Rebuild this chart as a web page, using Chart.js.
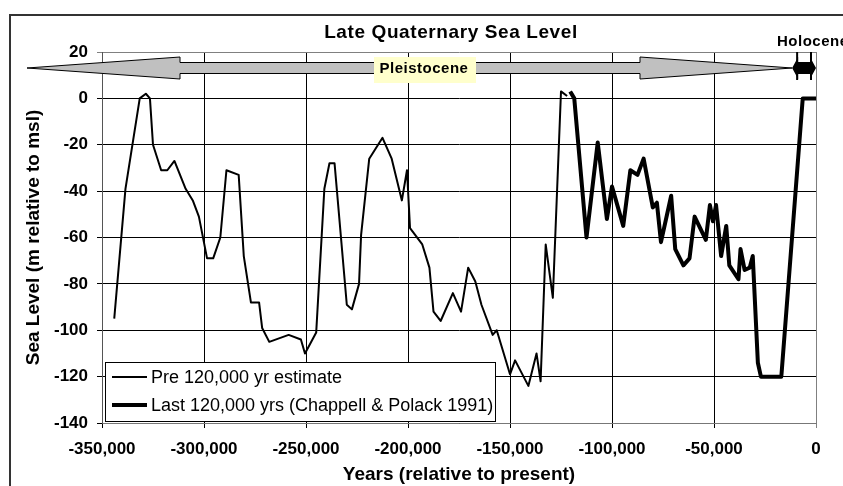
<!DOCTYPE html>
<html>
<head>
<meta charset="utf-8">
<title>Late Quaternary Sea Level</title>
<script src="https://cdn.jsdelivr.net/npm/chart.js@4.4.1/dist/chart.umd.min.js"></script>
<style>
  html, body { margin: 0; padding: 0; background: #fff; }
  #wrap { width: 843px; height: 486px; }
</style>
</head>
<body>
<div id="wrap"><canvas id="sea" width="843" height="486"></canvas></div>
<script>
// Pre 120,000 yr estimate (years relative to present, metres relative to msl)
var preYears = [
  -344000, -338500, -331500, -328500, -326500, -325000, -321000, -318000, -314500, -309000,
  -305500, -302500, -298500, -295500, -292000, -289000, -283000, -280500, -277000, -273000,
  -271500, -268000, -258500, -252500, -250500, -245000, -241000, -238500, -236000, -230000,
  -227500, -224000, -223000, -219000, -212500, -208000, -203000, -200500, -199000, -193000,
  -189500, -187500, -184000, -178000, -174000, -170500, -167000, -164000, -158500, -156500,
  -150000, -147500, -141000, -137000, -135000, -132500, -129000, -125000, -122000
];
var preLevel = [
  -95, -39, 0, 2, 0, -20, -31, -31, -27, -39,
  -44, -51, -69, -69, -60, -31, -33, -68, -88, -88,
  -99, -105, -102, -104, -110, -101, -39, -28, -28, -89,
  -91, -80, -59, -26, -17, -26, -44, -31, -56, -63,
  -73, -92, -96, -84, -92, -73, -79, -89, -102, -100,
  -119, -113, -124, -110, -122, -63, -86, 3, 1
];

// Last 120,000 yrs (Chappell & Polack 1991)
var lastYears = [
  -120500, -118500, -112500, -107000, -102500, -100000, -94500, -91000, -87500, -84500,
  -80000, -78000, -76000, -71000, -69000, -65000, -62000, -59500, -54000, -52000,
  -50500, -49000, -46500, -44000, -42500, -38000, -37000, -35000, -32500, -31000,
  -28500, -27000, -17000, -6500, 0
];
var lastLevel = [
  3, 0, -60, -19, -52, -38, -55, -31, -33, -26,
  -47, -45, -62, -42, -65, -72, -69, -51, -61, -46,
  -53, -46, -68, -55, -72, -78, -65, -74, -73, -68,
  -114, -120, -120, 0, 0
];

var xTicks = [-350000, -300000, -250000, -200000, -150000, -100000, -50000, 0];
var yTicks = [20, 0, -20, -40, -60, -80, -100, -120, -140];
var seriesNames = ['Pre 120,000 yr estimate', 'Last 120,000 yrs (Chappell & Polack 1991)'];
var holoceneStart = -11700;

var FONT = "'Liberation Sans', Arial, sans-serif";

function pairs(xs, ys) {
  return xs.map(function (x, i) { return { x: x, y: ys[i] }; });
}

var decor = {
  id: 'decor',
  beforeDraw: function (chart) {
    var c = chart.ctx;
    c.save();
    c.strokeStyle = '#333';
    c.lineWidth = 2;
    c.beginPath();
    c.moveTo(10, 486);
    c.lineTo(10, 15);
    c.lineTo(843, 15);
    c.stroke();
    c.restore();
  },
  afterDraw: function (chart) {
    var c = chart.ctx;
    var a = chart.chartArea;
    var xs = chart.scales.x;
    var bx = xs.getPixelForValue(holoceneStart);
    var yc = a.top + 16;

    c.save();
    // title
    c.fillStyle = '#000';
    c.font = 'bold 19px ' + FONT;
    c.letterSpacing = '0.6px';
    c.textAlign = 'center';
    c.textBaseline = 'alphabetic';
    c.fillText('Late Quaternary Sea Level', 451, 38);
    c.letterSpacing = '0px';

    // Pleistocene arrow
    c.beginPath();
    c.moveTo(27, yc);
    c.lineTo(180, yc - 11);
    c.lineTo(180, yc - 5.5);
    c.lineTo(640, yc - 5.5);
    c.lineTo(640, yc - 11);
    c.lineTo(bx, yc);
    c.lineTo(640, yc + 11);
    c.lineTo(640, yc + 5.5);
    c.lineTo(180, yc + 5.5);
    c.lineTo(180, yc + 11);
    c.closePath();
    c.fillStyle = '#c0c0c0';
    c.fill();
    c.strokeStyle = '#000';
    c.lineWidth = 1;
    c.stroke();

    // Holocene arrow
    var r = a.right;
    c.beginPath();
    c.moveTo(bx, yc);
    c.lineTo(bx + 6, yc - 11);
    c.lineTo(bx + 6, yc - 6);
    c.lineTo(r - 6, yc - 6);
    c.lineTo(r - 6, yc - 11);
    c.lineTo(r, yc);
    c.lineTo(r - 6, yc + 11);
    c.lineTo(r - 6, yc + 6);
    c.lineTo(bx + 6, yc + 6);
    c.lineTo(bx + 6, yc + 11);
    c.closePath();
    c.fillStyle = '#000';
    c.fill();
    c.lineWidth = 2;
    c.beginPath();
    c.moveTo(bx + 5, a.top); c.lineTo(bx + 5, yc + 12);
    c.moveTo(r - 5, a.top); c.lineTo(r - 5, yc + 12);
    c.stroke();

    // Pleistocene label
    c.fillStyle = '#ffffcc';
    c.fillRect(374, yc - 11, 102, 26);
    c.fillStyle = '#000';
    c.font = 'bold 15px ' + FONT;
    c.letterSpacing = '0.5px';
    c.textAlign = 'center';
    c.textBaseline = 'middle';
    c.fillText('Pleistocene', 424, yc + 1);

    // Holocene label
    c.textAlign = 'left';
    c.textBaseline = 'alphabetic';
    c.fillText('Holocene', 777, 46);
    c.letterSpacing = '0px';

    // legend
    var lx = 105.5, ly = 362.5, lw = 390, lh = 59;
    c.fillStyle = '#fff';
    c.fillRect(lx, ly, lw, lh);
    c.strokeStyle = '#000';
    c.lineWidth = 1;
    c.strokeRect(lx, ly, lw, lh);
    c.font = '18px ' + FONT;
    c.textBaseline = 'middle';
    c.textAlign = 'left';
    var rows = [{ y: 377, w: 2 }, { y: 405, w: 4 }];
    rows.forEach(function (row, i) {
      c.lineWidth = row.w;
      c.beginPath();
      c.moveTo(112, row.y);
      c.lineTo(147, row.y);
      c.stroke();
      c.fillStyle = '#000';
      c.fillText(seriesNames[i], 151, row.y + 1);
    });
    c.restore();
  }
};

new Chart(document.getElementById('sea'), {
  type: 'line',
  data: {
    datasets: [
      {
        label: seriesNames[0],
        data: pairs(preYears, preLevel),
        borderColor: '#000',
        borderWidth: 2,
        pointRadius: 0,
        tension: 0,
        borderJoinStyle: 'round'
      },
      {
        label: seriesNames[1],
        data: pairs(lastYears, lastLevel),
        borderColor: '#000',
        borderWidth: 4,
        pointRadius: 0,
        tension: 0,
        borderJoinStyle: 'round'
      }
    ]
  },
  options: {
    responsive: false,
    animation: false,
    layout: { padding: { left: 0, top: 52, right: 27, bottom: 0 } },
    plugins: { legend: { display: false }, tooltip: { enabled: false } },
    scales: {
      x: {
        type: 'linear',
        min: xTicks[0],
        max: xTicks[xTicks.length - 1],
        afterFit: function (s) { s.height = 63; },
        afterBuildTicks: function (s) { s.ticks = xTicks.map(function (v) { return { value: v }; }); },
        grid: {
          color: function (ctx) { return ctx.tick && ctx.tick.value === 0 ? '#808080' : '#000'; },
          tickLength: 5
        },
        border: { color: '#777' },
        ticks: {
          color: '#000',
          padding: 11,
          maxRotation: 0,
          font: { family: FONT, size: 17, weight: 'bold' },
          callback: function (v) { return v.toLocaleString('en-US'); }
        },
        title: {
          display: true,
          text: 'Years (relative to present)',
          color: '#000',
          font: { family: FONT, size: 19, weight: 'bold' },
          padding: { top: 0, bottom: 0 }
        }
      },
      y: {
        min: yTicks[yTicks.length - 1],
        max: yTicks[0],
        afterFit: function (s) { s.width = 102; },
        afterBuildTicks: function (s) { s.ticks = yTicks.slice().reverse().map(function (v) { return { value: v }; }); },
        grid: {
          color: function (ctx) { return ctx.tick && ctx.tick.value === 20 ? '#808080' : '#000'; },
          tickLength: 5
        },
        border: { color: '#555' },
        ticks: {
          color: '#000',
          padding: 9,
          font: { family: FONT, size: 17, weight: 'bold' }
        },
        title: {
          display: true,
          text: 'Sea Level (m relative to msl)',
          color: '#000',
          font: { family: FONT, size: 19, weight: 'bold' },
          padding: { top: 22, bottom: 0 }
        }
      }
    }
  },
  plugins: [decor]
});
</script>
</body>
</html>
